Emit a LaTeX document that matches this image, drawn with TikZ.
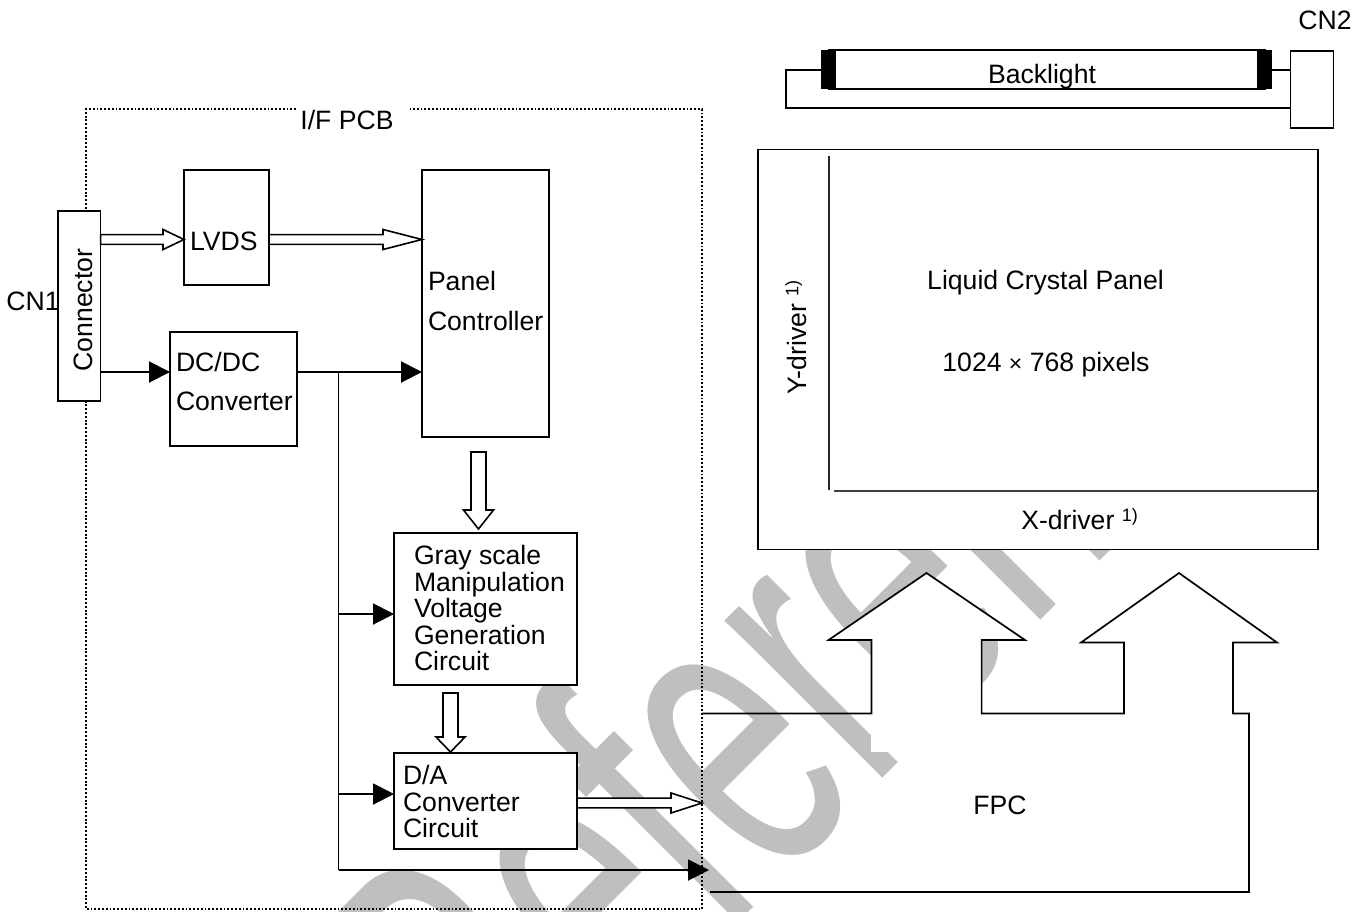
\documentclass[tikz,border=0pt]{standalone}
\usepackage{fontspec}
\setmainfont{Liberation Sans}
\usetikzlibrary{calc,arrows.meta}
\newcommand{\txtsize}{\fontsize{26.6}{26.5}\selectfont}
\newcommand{\supsize}{\fontsize{18}{18}\selectfont}
% open block arrows, between named points
\newcommand{\openright}[3]{\draw[openarrow] ($(#1)+(0,-4.9)$) -- ($(#2)+(-#3,-4.9)$) -- ($(#2)+(-#3,-10)$) -- (#2) -- ($(#2)+(-#3,10)$) -- ($(#2)+(-#3,4.9)$) -- ($(#1)+(0,4.9)$) -- cycle;}
\newcommand{\opendown}[4]{\draw[openarrow] ($(#1)+(-7.5,0)$) -- ($(#2)+(-7.5,-#3)$) -- ($(#2)+(-#4,-#3)$) -- (#2) -- ($(#2)+(#4,-#3)$) -- ($(#2)+(7.5,-#3)$) -- ($(#1)+(7.5,0)$) -- cycle;}
\tikzset{
  x=1pt,y=-1pt,
  box/.style={draw=black,fill=white,line width=1.7pt,inner sep=0pt,outer sep=0pt,font=\txtsize},
  txt/.style={inner sep=0pt,outer sep=0pt,font=\txtsize,align=left},
  plain/.style={line width=1.7pt,black,line join=miter},
  openarrow/.style={draw=black,fill=white,line width=1.6pt,line join=miter},
  solidarrow/.style={line width=2pt,black,-{Triangle[length=21pt,width=21pt,sep=0pt]},shorten >=0pt},
  dotline/.style={line width=1.6pt,black,dash pattern=on 1.9pt off 1.9pt},
}
\begin{document}
\begin{tikzpicture}
\useasboundingbox (0,0) rectangle (1365,911);
\clip (0,0) rectangle (1365,911);
% background watermark
\node[rotate=45,anchor=base west,inner sep=0pt,text=black!25!white,font=\fontsize{251}{251}\selectfont] (mark) at (496,1165) {\scalebox{1}[1.68]{Reference}};

% I/F PCB frame
\coordinate (pcbA) at (296,109);
\coordinate (pcbB) at (410,109);
\draw[dotline] (pcbA) -- (86,109) -- (86,909) -- (702,909) -- (702,109) -- (pcbB);
\node[txt] (pcb) at (347,120) {I/F PCB};

% boxes
\node[box,minimum width=42.5pt,minimum height=190pt] (conn) at (79.3,306) {};
\node[txt,rotate=90] (conntxt) at (83,310) {Connector};
\node[txt] (cn1) at (33,301) {CN1};
\node[box,minimum width=85pt,minimum height=115pt] (lvds) at (226.5,227.5) {};
\node[txt,anchor=west] (lvdstxt) at (190,241) {LVDS};
\node[box,minimum width=127pt,minimum height=114pt] (dc) at (233.5,389) {};
\node[txt,anchor=west] (dctxt1) at (176,361.5) {DC/DC};
\node[txt,anchor=west] (dctxt2) at (176,401.5) {Converter};
\node[box,minimum width=127pt,minimum height=267pt] (ctl) at (485.5,303.5) {};
\node[txt,anchor=west] (ctltxt1) at (428,281) {Panel};
\node[txt,anchor=west] (ctltxt2) at (428,321) {Controller};
\node[box,minimum width=183pt,minimum height=152pt] (gray) at (485.5,609) {};
\node[txt,anchor=west] (graytxt) at (414,608) {Gray scale\\Manipulation\\Voltage\\Generation\\Circuit};
\node[box,minimum width=183pt,minimum height=96pt] (da) at (485.5,801) {};
\node[txt,anchor=west] (datxt) at (403,801.5) {D/A\\Converter\\Circuit};

% open arrows
\coordinate (o1a) at (conn.east |- 0,239.5);
\coordinate (o1b) at (lvds.west |- 0,239.5);
\openright{o1a}{o1b}{21}
\coordinate (o2a) at (lvds.east |- 0,239.5);
\coordinate (o2b) at (ctl.west |- 0,239.5);
\openright{o2a}{o2b}{39}
\coordinate (o3a) at (478.5,452);
\coordinate (o3b) at (478.5,529);
\opendown{o3a}{o3b}{19}{15}
\coordinate (o4a) at (450.5,693);
\coordinate (o4b) at (450.5,752);
\opendown{o4a}{o4b}{15}{14.5}
\coordinate (o5a) at (da.east |- 0,803);
\coordinate (o5b) at (702,803);
\openright{o5a}{o5b}{31}

% filled arrows
\coordinate (busTop) at (338.5,372);
\coordinate (busBot) at (338.5,870);
\coordinate (outEnd) at (709,870);
\draw[solidarrow] (conn.east |- 0,372) -- (dc.west |- 0,372);
\draw[solidarrow] (dc.east |- 0,372) -- (ctl.west |- 0,372);
\draw[plain] (busTop) -- (busBot);
\draw[solidarrow] (busTop |- 0,614) -- (gray.west |- 0,614);
\draw[solidarrow] (busTop |- 0,794) -- (da.west |- 0,794);
\draw[solidarrow] (busBot) -- (outEnd);

% backlight
\fill[black] (821,50) rectangle (836,89);
\fill[black] (1257,50) rectangle (1272,89);
\draw[plain] (828,50) -- (1266,50);
\draw[plain] (828,89) -- (1266,89);
\node[txt] (bl) at (1042,77) {Backlight};
\node[box,minimum width=43pt,minimum height=77pt] (cn2) at (1312,89.5) {};
\node[txt] (cn2txt) at (1325,20) {CN2};
\coordinate (capL) at (821,70);
\coordinate (capR) at (1272,70);
\draw[plain] (capL) -- (786,70) -- (786,108) -- (cn2.west |- 0,108);
\draw[plain] (capR) -- (cn2.west |- 0,70);

% liquid crystal panel
\node[box,minimum width=560pt,minimum height=400pt] (panel) at (1038,349.5) {};
\draw[line width=1.5pt,black!85!white] (829,156) -- (829,490);
\draw[line width=1.6pt,black!75!white] (834,491) -- (panel.east |- 0,491);
\node[txt] (lcp) at (1045.5,283) {Liquid Crystal Panel};
\node[txt] (res) at (1046,365) {1024 {\fontsize{23}{23}\selectfont ×} 768 pixels};
\node[txt,rotate=90] (yd) at (796,337.5) {Y-driver {\supsize\raisebox{8pt}{1)}}};
\node[txt] (xd) at (1079.5,519) {X-driver {\supsize\raisebox{8pt}{1)}}};

% FPC
\fill[white] (871.4,640) rectangle (981.6,752);
\fill[white] (828.6,640) -- (926.5,573) -- (1025,640) -- cycle;
\fill[white] (1124,642.5) rectangle (1233,752);
\fill[white] (1081,642.5) -- (1179,573) -- (1277,642.5) -- cycle;
\coordinate (fpcL) at (702,713.5);
\draw[plain] (fpcL) -- (871.4,713.5) -- (871.4,640) -- (828.6,640) -- (926.5,573) -- (1025,640) -- (981.6,640) -- (981.6,713.5) -- (1124,713.5) -- (1124,642.5) -- (1081,642.5) -- (1179,573) -- (1277,642.5) -- (1233,642.5) -- (1233,713.5) -- (1249,713.5) -- (1249,892) -- (710,892);
\node[txt] (fpc) at (1000,805) {FPC};
\end{tikzpicture}
\end{document}
